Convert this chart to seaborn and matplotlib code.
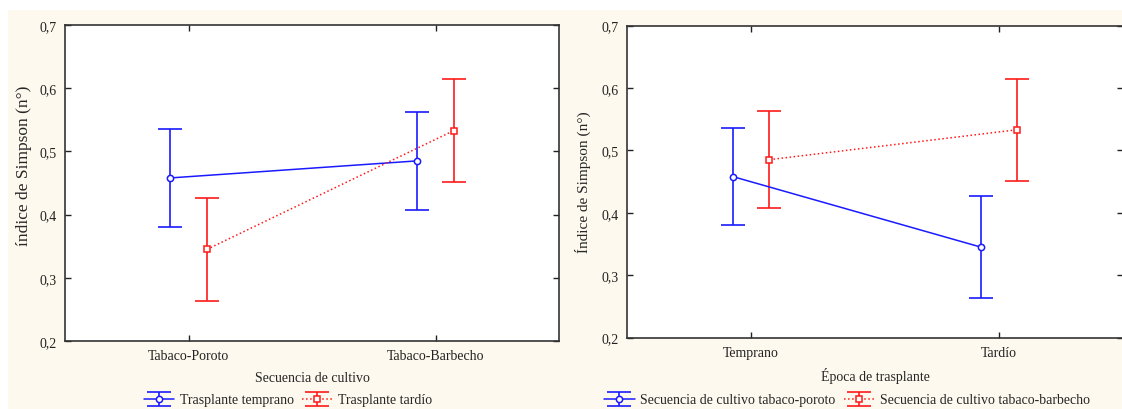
import matplotlib
matplotlib.use("Agg")
from matplotlib import pyplot as plt
from matplotlib.patches import Rectangle
from matplotlib.ticker import FuncFormatter
import pandas as pd
import seaborn as sns

# valores
secuencias = ["Tabaco-Poroto", "Tabaco-Barbecho"]
epocas = ["Temprano", "Tardío"]
media_temprano = [0.458, 0.485]
inf_temprano = [0.381, 0.407]
sup_temprano = [0.536, 0.563]
media_tardio = [0.345, 0.533]
inf_tardio = [0.263, 0.451]
sup_tardio = [0.427, 0.615]

rows = []
for i, s in enumerate(secuencias):
    rows.append([s, "Temprano", media_temprano[i], inf_temprano[i], sup_temprano[i]])
    rows.append([s, "Tardío", media_tardio[i], inf_tardio[i], sup_tardio[i]])
df = pd.DataFrame(rows, columns=["secuencia", "epoca", "media", "inf", "sup"])

sns.set_style("ticks")
plt.rcParams["font.family"] = ["Liberation Serif"]
plt.rcParams["font.size"] = 10

fig = plt.figure(figsize=(11.22, 4.10), dpi=100)
fig.patch.set_facecolor("white")
fig.patches.append(Rectangle((8 / 1122, 0), 1, 1 - 11 / 410, transform=fig.transFigure,
                             facecolor="#fdf9ee", edgecolor="none", zorder=-10))

ax1 = fig.add_axes([65 / 1122, 1 - 342 / 410, 494 / 1122, 316 / 410])
ax2 = fig.add_axes([627 / 1122, 1 - 338.5 / 410, 496 / 1122, 312 / 410])

colores = ["#1a1aff", "#ff1a1a"]
estilos = ["-", ":"]
marcas = ["o", "s"]


def panel(ax, x, hue, orden_x, orden_hue, etiquetas, xlabel, ylabel, legend_x,
          ysize, ypos, yx):
    sns.pointplot(data=df, x=x, y="media", hue=hue, order=orden_x, hue_order=orden_hue,
                  dodge=0.149, errorbar=None, palette=colores, markers=marcas,
                  linestyles=estilos, markersize=4.5, linewidth=1.1,
                  markerfacecolor="white", markeredgewidth=1.1, legend=False, ax=ax)
    handles = []
    for k, h in enumerate(orden_hue):
        line = ax.lines[k]
        xs = line.get_xdata()
        sub = df[df[hue] == h].set_index(x).loc[orden_x]
        yerr = [sub["media"] - sub["inf"], sub["sup"] - sub["media"]]
        err = ax.errorbar(xs, sub["media"], yerr=yerr, fmt="none", ecolor=colores[k],
                          elinewidth=1.2, capsize=8.5, capthick=1.2, zorder=1)
        handles.append((err, line))
    ax.set_xlim(-0.5, 1.5)
    ax.set_ylim(0.2, 0.7)
    ax.set_yticks([0.2, 0.3, 0.4, 0.5, 0.6, 0.7])
    ax.yaxis.set_major_formatter(FuncFormatter(lambda v, p: f"{v:.1f}".replace(".", ",")))
    ax.tick_params(direction="in", top=True, right=True, length=4, width=1,
                   labelsize=10, colors="#222222", pad=6)
    for sp in ax.spines.values():
        sp.set_visible(True)
        sp.set_linewidth(1.2)
        sp.set_color("#333333")
    ax.set_facecolor("white")
    ax.set_xlabel(xlabel, fontsize=10, labelpad=6)
    ax.set_ylabel(ylabel, fontsize=ysize)
    ax.yaxis.set_label_coords(yx, ypos)
    fig.legend(handles, etiquetas, loc="center", bbox_to_anchor=(legend_x, 1 - 401 / 410),
               ncol=2, frameon=False, fontsize=10, handlelength=2.2, handletextpad=0.4,
               columnspacing=0.6, borderaxespad=0)


panel(ax1, "secuencia", "epoca", secuencias, epocas,
      ["Trasplante temprano", "Trasplante tardío"],
      "Secuencia de cultivo", "índice de Simpson (n°)", 288 / 1122,
      12.5, 0.557, -33 / 494)
panel(ax2, "epoca", "secuencia", epocas, secuencias,
      ["Secuencia de cultivo tabaco-poroto", "Secuencia de cultivo tabaco-barbecho"],
      "Época de trasplante", "Índice de Simpson (n°)", 847 / 1122,
      11, 0.5, -36 / 496)

fig.savefig("out.png", dpi=100, facecolor=fig.get_facecolor())
